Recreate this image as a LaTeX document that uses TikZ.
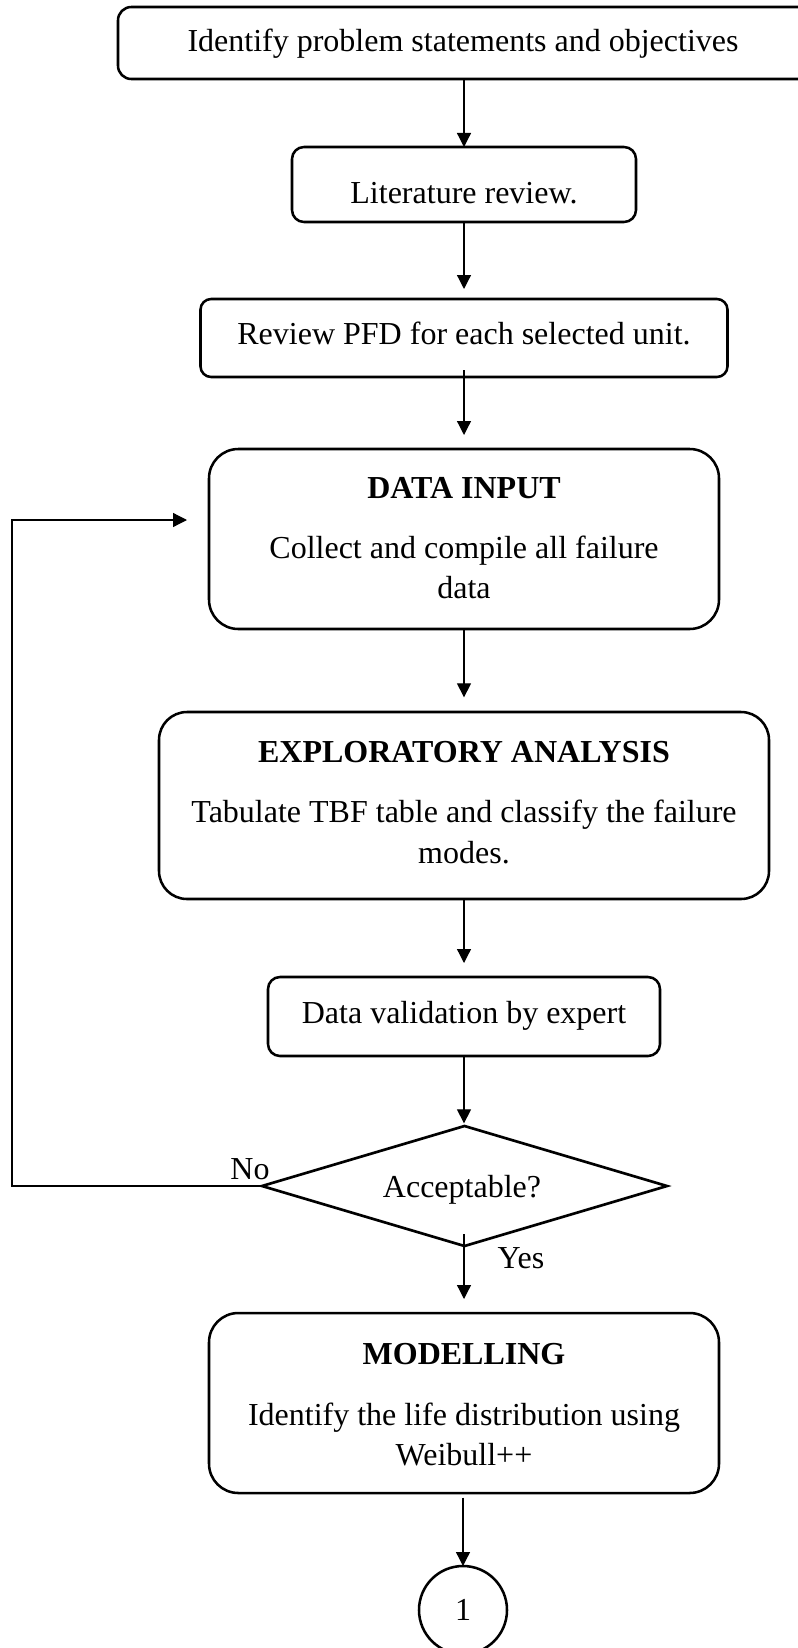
\documentclass[tikz,border=0pt]{standalone}
\usepackage{fontspec}
\setmainfont{Liberation Serif}
\usetikzlibrary{arrows.meta,shapes.geometric}

\tikzset{
  flowbox/.style={draw, rectangle, line width=1.9pt, inner sep=0pt, outer sep=0pt},
  txt/.style={anchor=base, inner sep=0pt, font=\fontsize{24}{30}\selectfont},
  hd/.style={anchor=base, inner sep=0pt, font=\fontsize{24}{30}\selectfont\bfseries},
  link/.style={line width=0.95pt, -{Triangle[length=10.5pt,width=10.5pt]}},
}

\begin{document}
\begin{tikzpicture}[x=0.75pt,y=-0.75pt]
\useasboundingbox (0,0) rectangle (798,1648);

% process boxes (the first one runs past the right margin)
\node[flowbox, rounded corners=10pt, minimum width=540pt, minimum height=54pt] (b1) at (478,43) {};
\node[flowbox, rounded corners=9pt, minimum width=258pt, minimum height=56.25pt] (b2) at (464,184.5) {};
\node[flowbox, rounded corners=8pt, minimum width=395.25pt, minimum height=58.5pt] (b3) at (464,338) {};
\node[flowbox, rounded corners=22pt, minimum width=382.5pt, minimum height=135pt] (b4) at (464,539) {};
\node[flowbox, rounded corners=21pt, minimum width=457.5pt, minimum height=140.25pt] (b5) at (464,805.5) {};
\node[flowbox, rounded corners=9pt, minimum width=294pt, minimum height=59.25pt] (b6) at (464,1016.5) {};
\node[draw, diamond, line width=2pt, inner sep=0pt, outer sep=0pt, minimum width=303.75pt, minimum height=90pt] (dec) at (464.5,1186) {};
\node[flowbox, rounded corners=22pt, minimum width=382.5pt, minimum height=135pt] (b7) at (464,1403) {};
\node[draw, circle, line width=1.9pt, inner sep=0pt, outer sep=0pt, minimum size=66pt, font=\fontsize{24}{30}\selectfont] (c1) at (463,1610) {1};

% box texts
\node[txt] (t1) at (463,52) {Identify problem statements and objectives};
\node[txt] (t2) at (464,203) {Literature review.};
\node[txt] (t3) at (464,344) {Review PFD for each selected unit.};
\node[hd]  (t4h) at (464,498) {DATA INPUT};
\node[txt] (t4a) at (464,558) {Collect and compile all failure};
\node[txt] (t4b) at (464,598) {data};
\node[hd]  (t5h) at (464,762) {EXPLORATORY ANALYSIS};
\node[txt] (t5a) at (464,822) {Tabulate TBF table and classify the failure};
\node[txt] (t5b) at (464,863) {modes.};
\node[txt] (t6) at (464,1023) {Data validation by expert};
\node[txt] (tq) at (462,1197) {Acceptable?};
\node[txt] (tno) at (250,1179) {No};
\node[txt] (tyes) at (521,1268) {Yes};
\node[hd]  (t7h) at (464,1364) {MODELLING};
\node[txt] (t7a) at (464,1425) {Identify the life distribution using};
\node[txt] (t7b) at (464,1465) {Weibull++};

% main flow
\draw[link] (b1.south -| b2.north) -- (b2.north);
\draw[link, shorten >=7.5pt] (b2.south) -- (b3.north);
\draw[link, shorten <=-5pt, shorten >=10.5pt] (b3.south) -- (b4.north);
\draw[link, shorten >=11pt] (b4.south) -- (b5.north);
\draw[link, shorten >=10.5pt] (b5.south) -- (b6.north);
\draw[link, shorten >=2pt] (b6.south) -- (b6.south |- dec.north);
\draw[link, shorten <=-9pt, shorten >=10.5pt] (dec.south -| b7.north) -- (b7.north);
\draw[link, shorten <=3.5pt] (b7.south -| c1.north) -- (c1.north);

% "No" branch back to data input
\coordinate (lpA) at (12,1186);
\coordinate (lpB) at (12,520);
\coordinate (lpEnd) at (187,520);
\draw[link] (dec.west) -- (lpA) -- (lpB) -- (lpEnd);
\end{tikzpicture}
\end{document}
